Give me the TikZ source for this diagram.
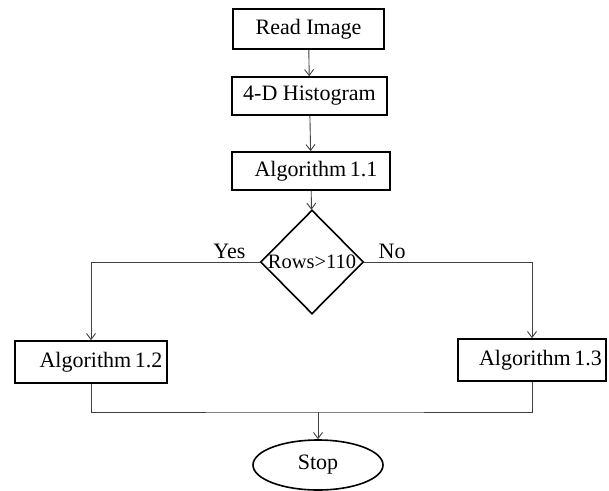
\documentclass[tikz,border=0pt]{standalone}
\usepackage{fontspec}
\setmainfont{Liberation Serif}
\usetikzlibrary{shapes.geometric, arrows.meta}

\begin{document}
\begin{tikzpicture}[x=1pt, y=-1pt,
  box/.style={draw, line width=1.6pt, inner sep=0pt},
  link/.style={draw=black!75, line width=0.9pt},
  >={Straight Barb[length=6pt, width=9pt]},
  font=\fontsize{22}{26}\selectfont]
  \useasboundingbox (0,0) rectangle (609,490);
  \node[box, minimum width=151pt, minimum height=40pt] (read) at (308.5,29) {Read Image};
  \node[box, minimum width=155pt, minimum height=38pt] (hist) at (309.5,96) {4-D Histogram};
  \node[box, minimum width=158pt, minimum height=38pt] (alg11) at (311,171) {\hspace*{10pt}Algorithm\,1.1};
  \node[box, diamond, aspect=1, minimum width=103pt, minimum height=104pt, inner sep=-8pt,
    font=\fontsize{20.5}{24}\selectfont] (rows) at (312,262) {Rows>110};
  \node[box, minimum width=152pt, minimum height=42pt] (alg12) at (91,362) {\hspace*{20pt}Algorithm\,1.2};
  \node[box, minimum width=148pt, minimum height=42pt] (alg13) at (532,360) {\hspace*{17pt}Algorithm\,1.3};
  \node[box, ellipse, minimum width=130pt, minimum height=50pt] (stop) at (318,465) {Stop};
  \coordinate (join) at (318,412);

  \draw[link, ->] (read) -- (hist);
  \draw[link, ->] (hist) -- (alg11);
  \draw[link, ->] (alg11) -- (rows);
  \draw[link, ->] (rows.west) -| node[pos=0.09, above] {Yes} (alg12.north);
  \draw[link, ->] (rows.east) -| node[pos=0.083, above] {No} (alg13.north);
  \draw[link] (alg12.south) |- (join) -| (alg13.south);
  \draw[link, ->] (join) -- (stop);
\end{tikzpicture}
\end{document}
